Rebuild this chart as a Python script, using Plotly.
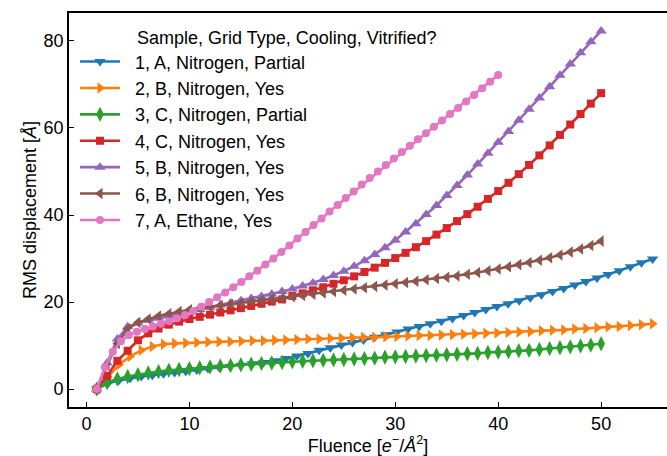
import numpy as np
import plotly.graph_objects as go

# ---------------- data ----------------
labels = [
    "1, A, Nitrogen, Partial",
    "2, B, Nitrogen, Yes",
    "3, C, Nitrogen, Partial",
    "4, C, Nitrogen, Yes",
    "5, B, Nitrogen, Yes",
    "6, B, Nitrogen, Yes",
    "7, A, Ethane, Yes",
]
legend_title = "Sample, Grid Type, Cooling, Vitrified?"

# fluence per frame (e-/A^2) and starting fluence of each sample
start_fluence = 1.0
dose_per_frame = [1.08, 1.08, 1.0, 1.0, 1.0, 1.0, 0.78]

y1 = [0.0, 1.3, 2.0, 2.5, 2.9, 3.2, 3.5, 3.8, 4.1, 4.4, 4.7, 5.0, 5.2, 5.5, 5.8,
      6.1, 6.5, 7.0, 7.6, 8.2, 8.9, 9.5, 10.1, 10.7, 11.3, 11.9, 12.5, 13.1,
      13.8, 14.4, 15.0, 15.6, 16.2, 16.9, 17.6, 18.3, 19.0, 19.6, 20.3, 21.0,
      21.7, 22.4, 23.1, 23.9, 24.7, 25.5, 26.3, 27.2, 28.1, 29.0, 29.9]
y2 = [0.0, 2.8, 5.6, 7.5, 8.9, 9.8, 10.3, 10.5, 10.6, 10.7, 10.8, 10.9, 10.9,
      11.0, 11.1, 11.1, 11.2, 11.3, 11.4, 11.5, 11.5, 11.6, 11.7, 11.8, 11.9,
      11.9, 12.0, 12.1, 12.2, 12.3, 12.3, 12.4, 12.5, 12.6, 12.7, 12.8, 12.9,
      13.0, 13.1, 13.2, 13.4, 13.5, 13.6, 13.8, 13.9, 14.1, 14.3, 14.4, 14.6,
      14.8, 15.0]
y3 = [0.0, 1.5, 2.3, 2.9, 3.3, 3.7, 4.0, 4.3, 4.5, 4.7, 4.9, 5.1, 5.3, 5.4,
      5.6, 5.7, 5.9, 6.0, 6.1, 6.3, 6.4, 6.5, 6.6, 6.7, 6.8, 6.9, 7.0, 7.1,
      7.3, 7.4, 7.5, 7.6, 7.7, 7.8, 7.9, 8.0, 8.1, 8.2, 8.4, 8.5, 8.6, 8.8,
      8.9, 9.1, 9.3, 9.5, 9.7, 9.9, 10.1, 10.4]
y4 = [0.0, 3.0, 6.5, 8.8, 11.2, 12.8, 13.9, 14.8, 15.5, 16.1, 16.6, 17.1,
      17.6, 18.1, 18.6, 19.1, 19.6, 20.1, 20.6, 21.4, 22.0, 22.7, 23.4, 24.2,
      25.0, 25.9, 26.9, 27.9, 29.0, 30.1, 31.3, 32.6, 34.0, 35.5, 37.0, 38.6,
      40.2, 41.9, 43.7, 45.5, 47.4, 49.4, 51.5, 53.7, 56.0, 58.4, 60.8, 63.2,
      65.6, 68.0]
y5 = [0.0, 6.0, 11.5, 14.3, 15.2, 15.8, 16.3, 16.8, 17.3, 17.8, 18.3, 18.8,
      19.3, 19.8, 20.3, 20.8, 21.3, 21.8, 22.4, 23.0, 23.7, 24.4, 25.2, 26.1,
      27.1, 28.2, 29.5, 30.9, 32.5, 34.2, 36.1, 38.0, 40.1, 42.2, 44.5, 46.8,
      49.2, 51.7, 54.2, 56.7, 59.2, 61.8, 64.3, 66.9, 69.5, 72.1, 74.7, 77.3,
      79.8, 82.3]
y6 = [0.0, 5.5, 10.5, 13.8, 15.3, 16.1, 16.8, 17.3, 17.8, 18.2, 18.6, 18.9,
      19.2, 19.5, 19.8, 20.1, 20.4, 20.7, 20.9, 21.2, 21.5, 21.8, 22.1, 22.4,
      22.7, 23.0, 23.3, 23.6, 23.9, 24.2, 24.5, 24.8, 25.1, 25.4, 25.7, 26.0,
      26.4, 26.8, 27.2, 27.6, 28.1, 28.6, 29.1, 29.6, 30.2, 30.8, 31.5, 32.2,
      33.0, 34.0]
y7 = [0.0, 5.0, 8.6, 11.0, 12.4, 13.2, 13.8, 14.4, 15.0, 15.6, 16.3, 17.0,
      17.9, 18.9, 20.0, 21.1, 22.2, 23.4, 24.6, 25.9, 27.2, 28.6, 30.0, 31.5,
      33.0, 34.6, 36.1, 37.7, 39.2, 40.8, 42.3, 43.9, 45.4, 47.0, 48.5, 50.0,
      51.5, 53.0, 54.5, 55.9, 57.4, 58.8, 60.3, 61.7, 63.2, 64.6, 66.1, 67.6,
      69.1, 70.6, 72.2]
series_y = [y1, y2, y3, y4, y5, y6, y7]

x_ticks = [0, 10, 20, 30, 40, 50]
y_ticks = [0, 20, 40, 60, 80]

# ---------------- style ----------------
colors = ["#1f77b4", "#ff7f0e", "#2ca02c", "#d62728", "#9467bd", "#8c564b", "#e377c2"]
symbols = ["triangle-down", "triangle-right", "diamond-tall", "square",
           "triangle-up", "triangle-left", "circle"]
sizes = [10, 10, 11, 8, 10, 10, 8]
FONT = "Liberation Sans, Arial, sans-serif"
FS = 18

fig = go.Figure()
for lab, ys, dpf, col, sym, sz in zip(labels, series_y, dose_per_frame, colors, symbols, sizes):
    xs = start_fluence + dpf * np.arange(len(ys))
    fig.add_trace(go.Scatter(
        x=xs, y=ys, mode="lines+markers", name="\u00a0\u00a0" + lab,
        line=dict(color=col, width=2.6),
        marker=dict(color=col, symbol=sym, size=sz, line=dict(width=0)),
    ))

fig.add_annotation(
    text=legend_title, xref="paper", yref="paper", x=0.110, y=0.9365,
    xanchor="left", yanchor="middle", showarrow=False,
    font=dict(family=FONT, size=FS, color="black"),
)

fig.update_layout(
    width=667, height=456,
    margin=dict(l=69, r=0, t=13, b=49),
    paper_bgcolor="white", plot_bgcolor="white",
    font=dict(family=FONT, size=FS, color="black"),
    showlegend=True,
    legend=dict(
        x=0.01, y=0.923, xanchor="left", yanchor="top",
        bgcolor="rgba(0,0,0,0)", borderwidth=0,
        font=dict(family=FONT, size=FS, color="black"),
        itemwidth=40, tracegroupgap=0,
    ),
)
fig.update_xaxes(
    range=[-1.7, 56.4], tickvals=x_ticks, ticks="inside", ticklen=5,
    tickwidth=1.2, tickcolor="black", showgrid=False, zeroline=False,
    showline=True, linecolor="black", linewidth=1.6, mirror=True,
    automargin=False,
    title=dict(text="Fluence [<i>e</i><sup>−</sup>/<i>Å</i><sup>2</sup>]",
               font=dict(family=FONT, size=FS), standoff=2),
    tickfont=dict(family=FONT, size=FS),
)
fig.update_yaxes(
    range=[-4.12, 86.42], tickvals=y_ticks, ticks="inside", ticklen=5,
    tickwidth=1.2, tickcolor="black", showgrid=False, zeroline=False,
    showline=True, linecolor="black", linewidth=1.6, mirror=False,
    automargin=False,
    title=dict(text="RMS displacement [<i>Å</i>]",
               font=dict(family=FONT, size=FS), standoff=2),
    tickfont=dict(family=FONT, size=FS),
)

fig.write_html("out.html", config={"displayModeBar": False},
               post_script="document.body.style.margin='0';")
